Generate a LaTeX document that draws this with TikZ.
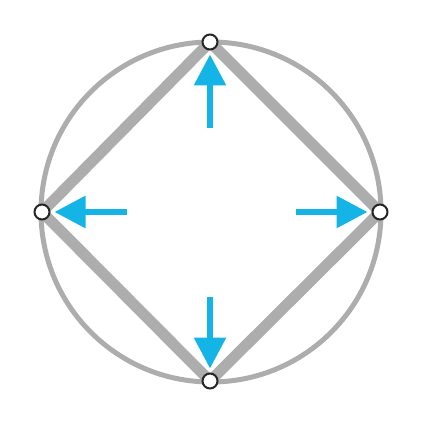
\documentclass[tikz,border=0pt]{standalone}
\usetikzlibrary{arrows.meta}
\definecolor{gr}{HTML}{ADADAD}
\definecolor{cy}{HTML}{14B4E6}
\tikzset{
  x=1pt, y=-1pt,
  vtx/.style={circle, draw=black!85, fill=white, line width=2pt, minimum size=15pt, inner sep=0pt},
  ring/.style={draw=gr, line width=5pt},
  edge/.style={draw=gr, line width=11pt, line join=round},
  push/.style={draw=cy, line width=6pt, -{Triangle[length=31pt,width=31pt]}, shorten >=4pt}
}
\begin{document}
\begin{tikzpicture}
\useasboundingbox (0,0) rectangle (425,425);
\fill[white] (0,0) rectangle (425,425);
\coordinate (c) at (211,212);
\coordinate (pt) at (210,42);
\coordinate (pr) at (380,212);
\coordinate (pb) at (210,381);
\coordinate (pl) at (42,212);
\draw[ring] (c) circle[radius=170pt];
\draw[edge] (pt) -- (pr) -- (pb) -- (pl) -- cycle;
\node[vtx] (t) at (pt) {};
\node[vtx] (r) at (pr) {};
\node[vtx] (b) at (pb) {};
\node[vtx] (l) at (pl) {};
\coordinate (st) at (210,128);
\coordinate (sr) at (296,212);
\coordinate (sb) at (210,297);
\coordinate (sl) at (127,212);
\draw[push] (st) -- (t);
\draw[push] (sr) -- (r);
\draw[push] (sb) -- (b);
\draw[push] (sl) -- (l);
\end{tikzpicture}
\end{document}
